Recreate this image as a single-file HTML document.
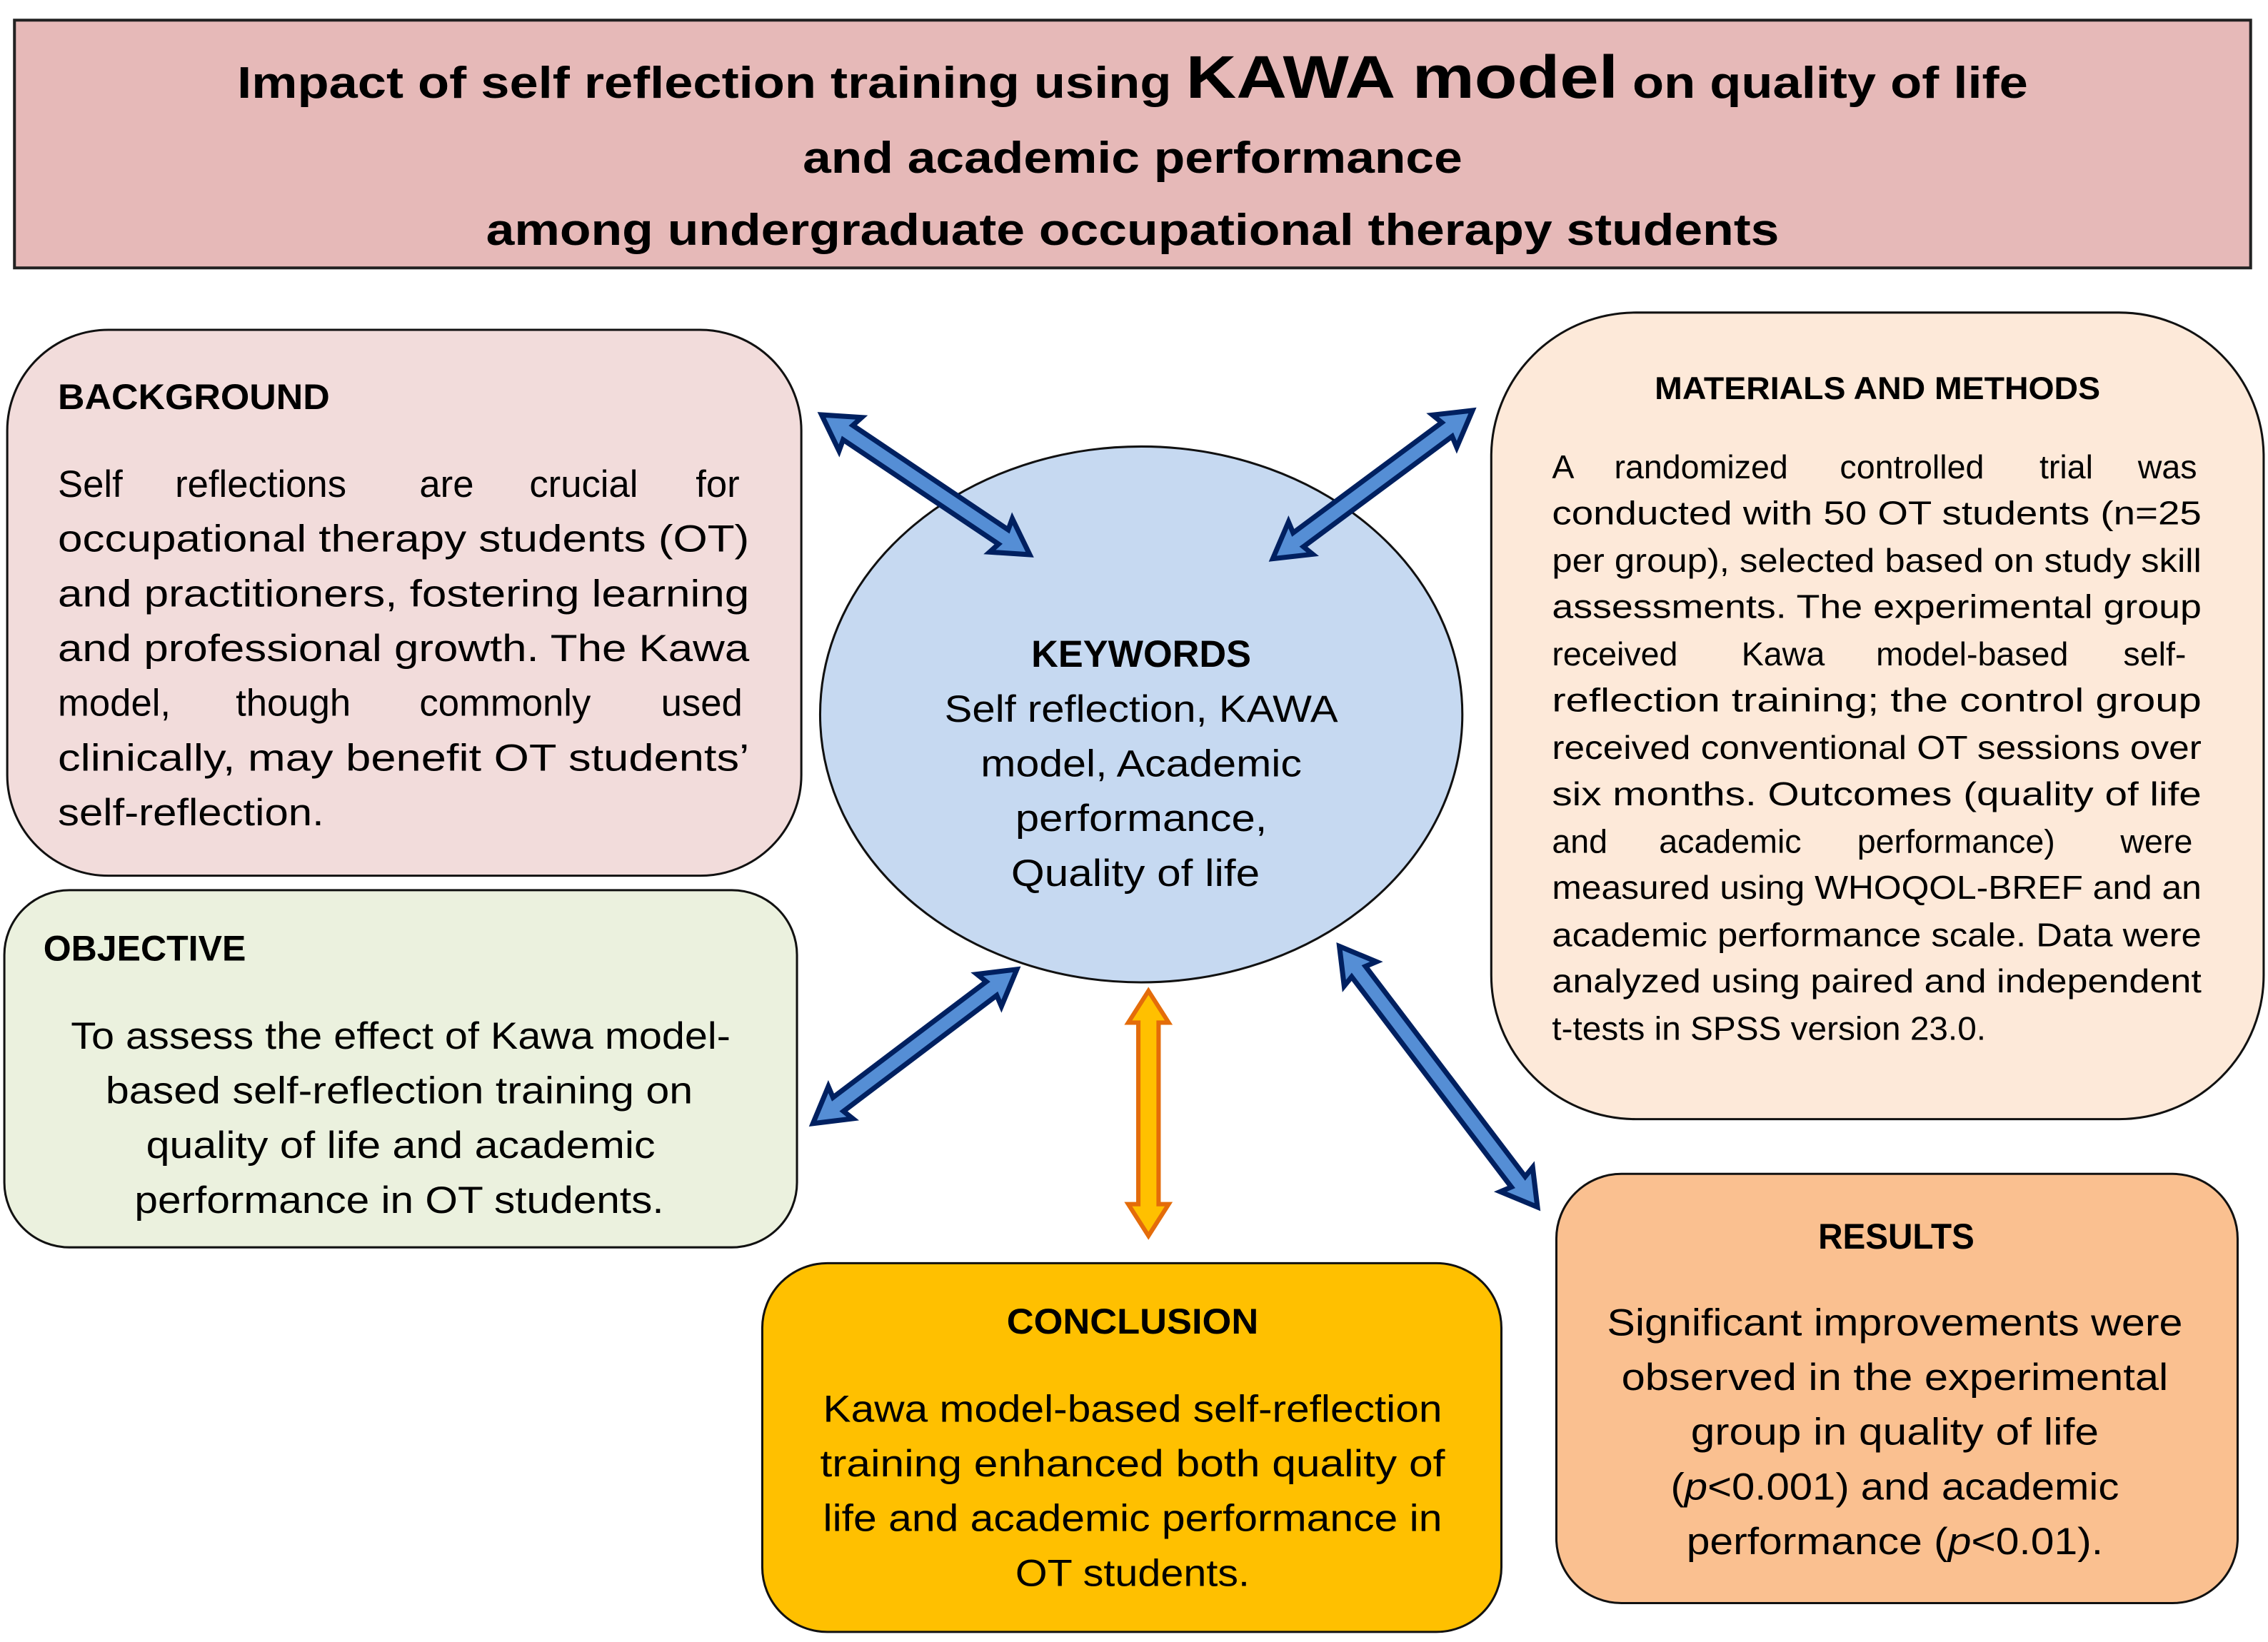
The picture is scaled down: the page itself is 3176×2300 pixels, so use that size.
<!DOCTYPE html>
<html><head><meta charset="utf-8"><style>
html,body{margin:0;padding:0;background:#fff;}
svg{display:block;}
text{font-family:"Liberation Sans",sans-serif;fill:#000;}
.b{font-weight:bold;}
</style></head><body>
<svg width="3176" height="2300" viewBox="0 0 1568 1140" preserveAspectRatio="none" xmlns="http://www.w3.org/2000/svg">
<!-- Title -->
<rect x="10" y="14" width="1546" height="172" fill="#e6b9b8" stroke="#222" stroke-width="2"/>
<text x="783" y="68" text-anchor="middle" class="b" font-size="31" textLength="1238" lengthAdjust="spacingAndGlyphs">Impact of self reflection  training using <tspan font-size="42">KAWA model</tspan> on quality of life</text>
<text x="783" y="120" text-anchor="middle" class="b" font-size="31" textLength="456" lengthAdjust="spacingAndGlyphs">and academic performance</text>
<text x="783" y="170" text-anchor="middle" class="b" font-size="31" textLength="894" lengthAdjust="spacingAndGlyphs">among undergraduate occupational therapy students</text>

<!-- Background -->
<rect x="5" y="229" width="549" height="379" rx="70" ry="70" fill="#f2dcdb" stroke="#111" stroke-width="1.5"/>
<text x="40" y="284" class="b" font-size="25" textLength="188" lengthAdjust="spacingAndGlyphs">BACKGROUND</text>
<g font-size="26">
<text y="345"><tspan x="40">Self</tspan><tspan x="121">reflections</tspan><tspan x="290">are</tspan><tspan x="366">crucial</tspan><tspan x="481">for</tspan></text>
<text x="40" y="383" textLength="478" lengthAdjust="spacingAndGlyphs">occupational therapy students (OT)</text>
<text x="40" y="421" textLength="478" lengthAdjust="spacingAndGlyphs">and practitioners, fostering learning</text>
<text x="40" y="459" textLength="478" lengthAdjust="spacingAndGlyphs">and professional growth. The Kawa</text>
<text y="497"><tspan x="40">model,</tspan><tspan x="163">though</tspan><tspan x="290">commonly</tspan><tspan x="457">used</tspan></text>
<text x="40" y="535" textLength="478" lengthAdjust="spacingAndGlyphs">clinically, may benefit OT students’</text>
<text x="40" y="573" textLength="184" lengthAdjust="spacingAndGlyphs">self-reflection.</text>
</g>

<!-- Objective -->
<rect x="3" y="618" width="548" height="248" rx="45" ry="45" fill="#ebf1de" stroke="#111" stroke-width="1.5"/>
<text x="30" y="667" class="b" font-size="25" textLength="140" lengthAdjust="spacingAndGlyphs">OBJECTIVE</text>
<g font-size="26" text-anchor="middle">
<text x="277" y="728" textLength="456" lengthAdjust="spacingAndGlyphs">To assess the effect of Kawa model-</text>
<text x="276" y="766" textLength="406" lengthAdjust="spacingAndGlyphs">based self-reflection training on</text>
<text x="277" y="804" textLength="352" lengthAdjust="spacingAndGlyphs">quality of life and academic</text>
<text x="276" y="842" textLength="366" lengthAdjust="spacingAndGlyphs">performance in OT students.</text>
</g>

<!-- Keywords ellipse -->
<ellipse cx="789" cy="496" rx="222" ry="186" fill="#c6d9f1" stroke="#111" stroke-width="1.5"/>
<text x="789" y="463" text-anchor="middle" class="b" font-size="26" textLength="152" lengthAdjust="spacingAndGlyphs">KEYWORDS</text>
<g font-size="26" text-anchor="middle">
<text x="789" y="501" textLength="272" lengthAdjust="spacingAndGlyphs">Self reflection, KAWA</text>
<text x="789" y="539" textLength="222" lengthAdjust="spacingAndGlyphs">model, Academic</text>
<text x="789" y="577" textLength="174" lengthAdjust="spacingAndGlyphs">performance,</text>
<text x="785" y="615" textLength="172" lengthAdjust="spacingAndGlyphs">Quality of life</text>
</g>

<!-- Materials -->
<rect x="1031" y="217" width="534" height="560" rx="100" ry="100" fill="#fde9d9" stroke="#111" stroke-width="1.5"/>
<text x="1298" y="277" text-anchor="middle" class="b" font-size="22" textLength="308" lengthAdjust="spacingAndGlyphs">MATERIALS AND METHODS</text>
<g font-size="23">
<text y="332"><tspan x="1073">A</tspan><tspan x="1116">randomized</tspan><tspan x="1272">controlled</tspan><tspan x="1410">trial</tspan><tspan x="1478">was</tspan></text>
<text x="1073" y="364" textLength="449" lengthAdjust="spacingAndGlyphs">conducted with 50 OT students (n=25</text>
<text x="1073" y="397" textLength="449" lengthAdjust="spacingAndGlyphs">per group), selected based on study skill</text>
<text x="1073" y="429" textLength="449" lengthAdjust="spacingAndGlyphs">assessments. The experimental group</text>
<text y="462"><tspan x="1073">received</tspan><tspan x="1204">Kawa</tspan><tspan x="1297">model-based</tspan><tspan x="1468">self-</tspan></text>
<text x="1073" y="494" textLength="449" lengthAdjust="spacingAndGlyphs">reflection training; the control group</text>
<text x="1073" y="527" textLength="449" lengthAdjust="spacingAndGlyphs">received conventional OT sessions over</text>
<text x="1073" y="559" textLength="449" lengthAdjust="spacingAndGlyphs">six months. Outcomes (quality of life</text>
<text y="592"><tspan x="1073">and</tspan><tspan x="1147">academic</tspan><tspan x="1284">performance)</tspan><tspan x="1466">were</tspan></text>
<text x="1073" y="624" textLength="449" lengthAdjust="spacingAndGlyphs">measured using WHOQOL-BREF and an</text>
<text x="1073" y="657" textLength="449" lengthAdjust="spacingAndGlyphs">academic performance scale. Data were</text>
<text x="1073" y="689" textLength="449" lengthAdjust="spacingAndGlyphs">analyzed using paired and independent</text>
<text x="1073" y="722" textLength="300" lengthAdjust="spacingAndGlyphs">t-tests in SPSS version 23.0.</text>
</g>

<!-- Results -->
<rect x="1076" y="815" width="471" height="298" rx="45" ry="45" fill="#fac090" stroke="#111" stroke-width="1.5"/>
<text x="1311" y="867" text-anchor="middle" class="b" font-size="25" textLength="108" lengthAdjust="spacingAndGlyphs">RESULTS</text>
<g font-size="26" text-anchor="middle">
<text x="1310" y="927" textLength="398" lengthAdjust="spacingAndGlyphs">Significant improvements were</text>
<text x="1310" y="965" textLength="378" lengthAdjust="spacingAndGlyphs">observed in the experimental</text>
<text x="1310" y="1003" textLength="282" lengthAdjust="spacingAndGlyphs">group in quality of life</text>
<text x="1310" y="1041" textLength="310" lengthAdjust="spacingAndGlyphs">(<tspan font-style="italic">p</tspan>&lt;0.001) and academic</text>
<text x="1310" y="1079" textLength="288" lengthAdjust="spacingAndGlyphs">performance (<tspan font-style="italic">p</tspan>&lt;0.01).</text>
</g>

<!-- Conclusion -->
<rect x="527" y="877" width="511" height="256" rx="45" ry="45" fill="#ffc000" stroke="#111" stroke-width="1.5"/>
<text x="783" y="926" text-anchor="middle" class="b" font-size="25" textLength="174" lengthAdjust="spacingAndGlyphs">CONCLUSION</text>
<g font-size="26" text-anchor="middle">
<text x="783" y="987" textLength="428" lengthAdjust="spacingAndGlyphs">Kawa model-based self-reflection</text>
<text x="783" y="1025" textLength="432" lengthAdjust="spacingAndGlyphs">training enhanced both quality of</text>
<text x="783" y="1063" textLength="428" lengthAdjust="spacingAndGlyphs">life and academic performance in</text>
<text x="783" y="1101" textLength="162" lengthAdjust="spacingAndGlyphs">OT students.</text>
</g>

<!-- Arrows -->
<g fill="#558ed5" stroke="#002060" stroke-width="3.5" stroke-linejoin="miter">
<g transform="translate(568,288) rotate(34)"><polygon points="0,0 24,-14 22,-6 151.6,-6 149.6,-14 173.6,0 149.6,14 151.6,6 22,6 24,14"/></g>
<g transform="translate(1018,285) rotate(143.3)"><polygon points="0,0 24,-14 22,-6 150.2,-6 148.2,-14 172.2,0 148.2,14 150.2,6 22,6 24,14"/></g>
<g transform="translate(703,673) rotate(142.8)"><polygon points="0,0 24,-14 22,-6 155,-6 153,-14 177,0 153,14 155,6 22,6 24,14"/></g>
<g transform="translate(926,657) rotate(52.9)"><polygon points="0,0 24,-14 22,-6 205,-6 203,-14 227,0 203,14 205,6 22,6 24,14"/></g>
</g>
<g fill="#ffc000" stroke="#e46c0a" stroke-width="3">
<g transform="translate(794,688) rotate(90)"><polygon points="0,0 22,-14 22,-7 148,-7 148,-14 170,0 148,14 148,7 22,7 22,14"/></g>
</g>
</svg>
</body></html>
